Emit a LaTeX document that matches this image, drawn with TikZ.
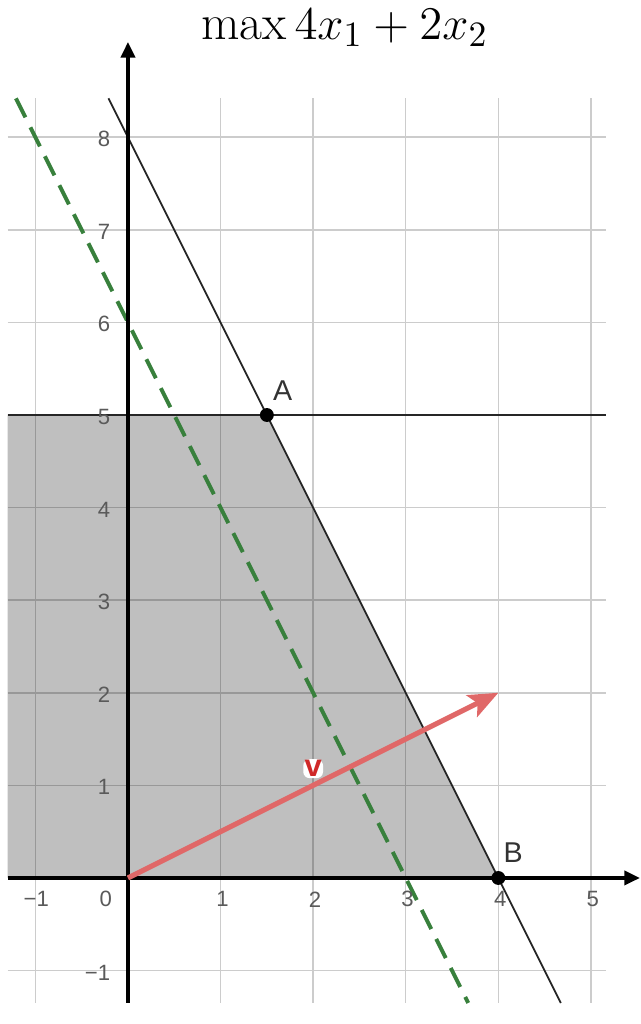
\documentclass[tikz,border=0pt]{standalone}
\usepackage{fontspec}
\newfontfamily\labelfont{Liberation Sans}
\usetikzlibrary{arrows.meta,positioning}
\definecolor{gridgray}{RGB}{204,204,204}
\definecolor{vecred}{RGB}{224,104,104}
\definecolor{vred}{RGB}{208,40,40}
\definecolor{dashgreen}{RGB}{56,128,60}
\definecolor{ticktext}{RGB}{90,90,90}
\tikzset{
  tick/.style={font=\labelfont\fontsize{6.8}{8}\selectfont, text=ticktext, inner sep=1pt},
  ptlabel/.style={font=\labelfont\fontsize{8.8}{10}\selectfont, text=black!80, inner sep=0pt},
  vertex/.style={circle, fill=black, inner sep=0pt, minimum size=0.15cm},
  axis/.style={line width=1.3pt, -{Triangle[length=1.7mm, width=1.5mm]}},
  constraint/.style={line width=0.55pt, black!85},
}
\begin{document}
\begin{tikzpicture}
    \useasboundingbox (-1.382,-1.577) rectangle (5.540,9.482);
    % Grid and feasible region
    \draw[gridgray, line width=0.45pt] (-1.30,-1.35) grid (5.16,8.42);
    \fill[black, opacity=0.25] (-1.30,0) -- (-1.30,5) -- (1.5,5) -- (4,0) -- cycle;

    % Constraint lines
    \coordinate (c1) at (-0.21,8.42);
    \coordinate (c2) at (4.675,-1.35);
    \coordinate (h1) at (-1.30,5);
    \coordinate (h2) at (5.16,5);
    \draw[constraint] (c1) -- (c2);
    \draw[constraint] (h1) -- (h2);

    % Level line of the objective
    \coordinate (g1) at (-1.21,8.42);
    \coordinate (g2) at (3.675,-1.35);
    \draw[dashgreen, line width=1.2pt, dash pattern=on 2.3mm off 1.2mm] (g1) -- (g2);

    % Axes
    \coordinate (xl) at (-1.30,0);
    \coordinate (xr) at (5.53,0);
    \coordinate (yb) at (0,-1.35);
    \coordinate (yt) at (0,9.03);
    \draw[axis] (xl) -- (xr);
    \draw[axis] (yb) -- (yt);

    % Tick labels
    \foreach \x in {1,...,5}
        \node[tick] (xt\x) at (\x+0.02,-0.23) {\x};
    \node[tick] (xtm1) at (-0.99,-0.23) {−1};
    \node[tick] (xt0) at (-0.24,-0.23) {0};
    \foreach \y in {1,...,8}
        \node[tick, anchor=east] (yt\y) at (-0.15,\y-0.02) {\y};
    \node[tick, anchor=east] (ytm1) at (-0.15,-1.02) {−1};

    % Gradient vector
    \coordinate (O) at (0,0);
    \coordinate (V) at (4,2);
    \draw[vecred, line width=1.6pt, -{Stealth[length=3.2mm, width=2.6mm, inset=0.7mm]}] (O) -- (V);
    \node[font=\labelfont\bfseries\fontsize{9.5}{10}\selectfont, text=vred, fill=white,
          rounded corners=2pt, inner sep=0.4pt] (vlabel) at (2.0,1.18) {v};

    % Vertices
    \node[vertex] (A) at (1.5,5) {};
    \node[vertex] (B) at (4,0) {};
    \node[ptlabel] (Alabel) at (1.67,5.26) {A};
    \node[ptlabel] (Blabel) at (4.16,0.27) {B};

    % Title
    \node[font=\fontsize{15.3}{18}\selectfont] (title) at (2.34,9.18) {$\max 4x_1 + 2x_2$};
\end{tikzpicture}
\end{document}
